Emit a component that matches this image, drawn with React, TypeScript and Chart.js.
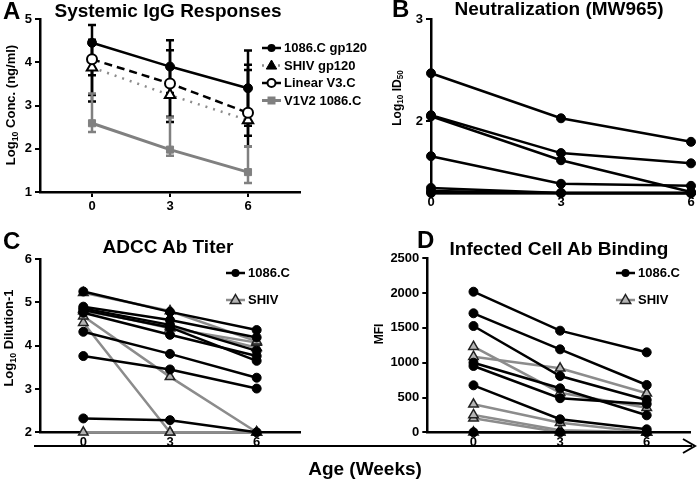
import React, { useEffect, useRef } from "react";
import { Chart, registerables } from "chart.js";
Chart.register(...registerables);

const FONT = 'Arial, "Liberation Sans", Helvetica, sans-serif';

// shared x categories (weeks)
const weeks = [0, 3, 6];
const weekTickLabels = ["0", "3", "6"];

// ---------- Panel A: Systemic IgG Responses ----------
const aNames = ["1086.C gp120", "SHIV gp120", "Linear V3.C", "V1V2 1086.C"];
const aYTicks = [1, 2, 3, 4, 5];
const a1086 = [4.45, 3.9, 3.4];
const a1086Lo = [3.09, 3.29, 2.53];
const a1086Hi = [4.86, 4.51, 4.27];
const aShiv = [3.88, 3.24, 2.66];
const aShivLo = [3.24, 2.62, 2.3];
const aShivHi = [4.52, 3.86, 3.82];
const aV3 = [4.07, 3.51, 2.83];
const aV3Lo = [3.7, 2.74, 2.06];
const aV3Hi = [4.44, 4.28, 3.94];
const aV1V2 = [2.59, 1.98, 1.46];
const aV1V2Lo = [2.39, 1.84, 1.21];
const aV1V2Hi = [3.28, 2.72, 2.06];

// ---------- Panel B: Neutralization (MW965) ----------
const bYTicks = [2, 3];
const bYTickLabels = ["2", "3"];
const bAnimal1 = [2.47, 2.03, 1.8];
const bAnimal2 = [2.06, 1.69, 1.59];
const bAnimal3 = [2.05, 1.62, 1.31];
const bAnimal4 = [1.66, 1.39, 1.37];
const bAnimal5 = [1.35, 1.3, 1.3];
const bAnimal6 = [1.32, 1.3, 1.3];
const bAnimal7 = [1.3, 1.3, 1.3];

// ---------- Panel C: ADCC Ab Titer ----------
const cYTicks = [2, 3, 4, 5, 6];
const c1086a = [5.25, 4.78, 4.36];
const c1086b = [4.9, 4.59, 4.19];
const c1086c = [4.86, 4.48, 3.88];
const c1086d = [4.82, 4.42, 3.65];
const c1086e = [4.76, 4.25, 3.76];
const c1086f = [4.32, 3.81, 3.26];
const c1086g = [3.76, 3.45, 3.01];
const c1086h = [2.32, 2.28, 2.0];
const cShivA = [5.22, 4.8, 4.1];
const cShivB = [4.84, 4.4, 4.07];
const cShivC = [4.8, 4.45, 3.95];
const cShivD = [4.68, 3.28, 2.0];
const cShivE = [4.53, 2.0, 2.0];
const cShivF = [2.0, 2.0, 2.0];

// ---------- Panel D: Infected Cell Ab Binding ----------
const dYTicks = [0, 500, 1000, 1500, 2000, 2500];
const d1086a = [2020, 1460, 1149];
const d1086b = [1710, 1192, 680];
const d1086c = [1527, 809, 464];
const d1086d = [1000, 632, 244];
const d1086e = [953, 490, 407];
const d1086f = [675, 187, 43];
const d1086g = [0, 0, 0];
const dShivA = [1230, 569, 353];
const dShivB = [1086, 920, 560];
const dShivC = [402, 138, 0];
const dShivD = [249, 30, 0];
const dShivE = [201, 0, 0];
const dShivF = [0, 0, 0];

const GRAY_LINE = "#8c8c8c";
const GRAY_FILL = "#b4b4b4";

const pts = (arr: number[]) => weeks.map((w, i) => ({ x: w, y: arr[i] }));

function drawMarker(ctx: CanvasRenderingContext2D, style: string, x: number, y: number, r: number, fill: string, stroke: string, lw: number) {
  ctx.save();
  ctx.beginPath();
  if (style === "circle") {
    ctx.arc(x, y, r, 0, Math.PI * 2);
  } else if (style === "triangle") {
    ctx.moveTo(x, y - r);
    ctx.lineTo(x + r * 0.95, y + r * 0.65);
    ctx.lineTo(x - r * 0.95, y + r * 0.65);
    ctx.closePath();
  } else {
    ctx.rect(x - r, y - r, r * 2, r * 2);
  }
  ctx.fillStyle = fill;
  ctx.fill();
  if (lw > 0) {
    ctx.lineWidth = lw;
    ctx.strokeStyle = stroke;
    ctx.stroke();
  }
  ctx.restore();
}

const legendPlugin = {
  id: "customLegend",
  afterDraw(chart: any, _args: any, opts: any) {
    if (!opts || !opts.items) return;
    const ctx = chart.ctx as CanvasRenderingContext2D;
    ctx.save();
    ctx.font = `bold ${opts.fontSize}px ${FONT}`;
    ctx.textBaseline = "middle";
    ctx.fillStyle = "#000";
    opts.items.forEach((it: any, i: number) => {
      const y = opts.y + i * opts.gap;
      ctx.save();
      ctx.strokeStyle = it.color;
      ctx.lineWidth = it.lineWidth;
      ctx.setLineDash(it.dash || []);
      ctx.beginPath();
      ctx.moveTo(opts.x, y);
      ctx.lineTo(opts.x + opts.lineLen, y);
      ctx.stroke();
      ctx.restore();
      drawMarker(ctx, it.marker, opts.x + opts.lineLen / 2, y, it.r, it.fill, it.stroke, it.mlw);
      ctx.fillStyle = "#000";
      ctx.fillText(it.label, opts.x + opts.lineLen + 3, y + 0.5);
    });
    ctx.restore();
  },
};

// draws y tick labels at the y scale's own tick positions
const yLabelPlugin = {
  id: "yLabels",
  afterDraw(chart: any, _args: any, opts: any) {
    if (!opts || !opts.values) return;
    const ys = chart.scales.y;
    const ctx = chart.ctx as CanvasRenderingContext2D;
    ctx.save();
    ctx.font = `bold 13px ${FONT}`;
    ctx.fillStyle = "#000";
    ctx.textAlign = "right";
    ctx.textBaseline = "middle";
    opts.values.forEach((v: number, i: number) => {
      ctx.fillText(opts.labels[i], ys.right - 8, ys.getPixelForValue(v));
    });
    ctx.restore();
  },
};

const errorBarPlugin = {
  id: "errorBars",
  beforeDatasetsDraw(chart: any, _args: any, opts: any) {
    if (!opts || !opts.bars) return;
    const ctx = chart.ctx as CanvasRenderingContext2D;
    const xs = chart.scales.x;
    const ys = chart.scales.y;
    ctx.save();
    opts.bars.forEach((b: any) => {
      ctx.strokeStyle = b.color;
      ctx.lineWidth = 2.5;
      weeks.forEach((w, i) => {
        const px = xs.getPixelForValue(w);
        const top = ys.getPixelForValue(b.hi[i]);
        const bot = ys.getPixelForValue(b.lo[i]);
        ctx.beginPath();
        ctx.moveTo(px, top);
        ctx.lineTo(px, bot);
        ctx.moveTo(px - 4, top);
        ctx.lineTo(px + 4, top);
        ctx.moveTo(px - 4, bot);
        ctx.lineTo(px + 4, bot);
        ctx.stroke();
      });
    });
    ctx.restore();
  },
};

function xAxis(min: number, max: number, height: number, tickLen: number) {
  return {
    type: "linear",
    min,
    max,
    afterBuildTicks: (s: any) => {
      s.ticks = weeks.map((v) => ({ value: v }));
    },
    afterFit: (s: any) => {
      s.height = height;
    },
    ticks: {
      autoSkip: false,
      maxRotation: 0,
      color: "#000",
      padding: 2,
      font: { family: FONT, weight: "bold", size: 13 },
      callback: (_v: any, i: number) => weekTickLabels[i],
    },
    grid: { drawOnChartArea: false, drawTicks: tickLen > 0, tickLength: tickLen, color: "#000", lineWidth: 2 },
    border: { display: true, color: "#000", width: 2.5 },
  };
}

function yAxis(min: number, max: number, width: number, tickVals: number[], showLabels = true) {
  return {
    type: "linear",
    min,
    max,
    afterBuildTicks: (s: any) => {
      s.ticks = tickVals.map((v) => ({ value: v }));
    },
    afterFit: (s: any) => {
      s.width = width;
    },
    ticks: {
      display: showLabels,
      autoSkip: false,
      color: "#000",
      padding: 3,
      font: { family: FONT, weight: "bold", size: 13 },
      callback: (v: any) => String(v),
    },
    grid: { drawOnChartArea: false, drawTicks: true, tickLength: 5, color: "#000", lineWidth: 2 },
    border: { display: true, color: "#000", width: 2.5 },
  };
}

function lineDs(arr: number[], opts: any) {
  return {
    data: pts(arr),
    showLine: true,
    fill: false,
    tension: 0,
    clip: false,
    borderWidth: 2.5,
    ...opts,
  };
}

const blackCircle = {
  borderColor: "#000",
  pointStyle: "circle",
  pointRadius: 4.5,
  pointBackgroundColor: "#000",
  pointBorderColor: "#000",
  pointBorderWidth: 1,
  order: 0,
};
const grayTriangle = {
  borderColor: GRAY_LINE,
  pointStyle: "triangle",
  pointRadius: 5.5,
  pointBackgroundColor: GRAY_FILL,
  pointBorderColor: "#222",
  pointBorderWidth: 1.5,
  order: 1,
};

function configA() {
  return {
    type: "scatter",
    data: {
      datasets: [
        lineDs(a1086, { ...blackCircle, pointRadius: 4.5 }),
        lineDs(aV3, { borderColor: "#000", borderDash: [8, 5], pointStyle: "circle", pointRadius: 5, pointBackgroundColor: "#fff", pointBorderColor: "#000", pointBorderWidth: 2 }),
        lineDs(aShiv, { borderColor: GRAY_LINE, borderDash: [2, 6], pointStyle: "triangle", pointRadius: 6, pointBackgroundColor: "#fff", pointBorderColor: "#000", pointBorderWidth: 2 }),
        lineDs(aV1V2, { borderColor: "#808080", borderWidth: 3, pointStyle: "rect", pointRadius: 5, pointBackgroundColor: "#808080", pointBorderColor: "#808080", pointBorderWidth: 1 }),
      ],
    },
    options: {
      responsive: false,
      animation: false,
      layout: { padding: { left: 0, top: 19, right: 70, bottom: 0 } },
      scales: { x: xAxis(-2, 8, 48, 5), y: yAxis(1, 5, 40, aYTicks) },
      plugins: {
        legend: { display: false },
        tooltip: { enabled: false },
        errorBars: {
          bars: [
            { color: "#000", lo: a1086Lo, hi: a1086Hi },
            { color: "#000", lo: aShivLo, hi: aShivHi },
            { color: "#000", lo: aV3Lo, hi: aV3Hi },
            { color: "#808080", lo: aV1V2Lo, hi: aV1V2Hi },
          ],
        },
        customLegend: {
          x: 262,
          y: 48,
          gap: 17.5,
          lineLen: 19,
          fontSize: 13,
          items: [
            { label: aNames[0], color: "#000", lineWidth: 2.5, marker: "circle", r: 4, fill: "#000", stroke: "#000", mlw: 0 },
            { label: aNames[1], color: GRAY_LINE, lineWidth: 2.5, dash: [2, 6], marker: "triangle", r: 5.5, fill: "#000", stroke: "#000", mlw: 1 },
            { label: aNames[2], color: "#000", lineWidth: 2.5, marker: "circle", r: 4, fill: "#fff", stroke: "#000", mlw: 2 },
            { label: aNames[3], color: "#808080", lineWidth: 3, marker: "rect", r: 4, fill: "#808080", stroke: "#808080", mlw: 0 },
          ],
        },
      },
    },
    plugins: [errorBarPlugin, legendPlugin],
  };
}

function configB() {
  const lines = [bAnimal1, bAnimal2, bAnimal3, bAnimal4, bAnimal5, bAnimal6, bAnimal7];
  return {
    type: "scatter",
    data: { datasets: lines.map((l) => lineDs(l, { ...blackCircle })) },
    options: {
      responsive: false,
      animation: false,
      layout: { padding: { left: 0, top: 19, right: 9, bottom: 0 } },
      scales: { x: xAxis(0, 6, 47, 0), y: yAxis(1.3, 3, 81, bYTicks, false) },
      plugins: {
        legend: { display: false },
        tooltip: { enabled: false },
        yLabels: { values: bYTicks, labels: bYTickLabels },
      },
    },
    plugins: [yLabelPlugin],
  };
}

function configC() {
  const black = [c1086a, c1086b, c1086c, c1086d, c1086e, c1086f, c1086g, c1086h];
  const gray = [cShivA, cShivB, cShivC, cShivD, cShivE, cShivF];
  return {
    type: "scatter",
    data: {
      datasets: [
        ...black.map((l) => lineDs(l, { ...blackCircle })),
        ...gray.map((l) => lineDs(l, { ...grayTriangle })),
      ],
    },
    options: {
      responsive: false,
      animation: false,
      layout: { padding: { left: 0, top: 19, right: 50, bottom: 0 } },
      scales: { x: xAxis(-1.5, 7.5, 50.7, 0), y: yAxis(2, 6, 40, cYTicks) },
      plugins: {
        legend: { display: false },
        tooltip: { enabled: false },
        customLegend: {
          x: 226,
          y: 33,
          gap: 27,
          lineLen: 19,
          fontSize: 13,
          items: [
            { label: "1086.C", color: "#000", lineWidth: 2.5, marker: "circle", r: 4, fill: "#000", stroke: "#000", mlw: 0 },
            { label: "SHIV", color: GRAY_LINE, lineWidth: 2.5, marker: "triangle", r: 5.5, fill: GRAY_FILL, stroke: "#222", mlw: 1.5 },
          ],
        },
      },
    },
    plugins: [legendPlugin],
  };
}

function configD() {
  const black = [d1086a, d1086b, d1086c, d1086d, d1086e, d1086f, d1086g];
  const gray = [dShivA, dShivB, dShivC, dShivD, dShivE, dShivF];
  return {
    type: "scatter",
    data: {
      datasets: [
        ...black.map((l) => lineDs(l, { ...blackCircle })),
        ...gray.map((l) => lineDs(l, { ...grayTriangle })),
      ],
    },
    options: {
      responsive: false,
      animation: false,
      layout: { padding: { left: 0, top: 18.3, right: 10, bottom: 0 } },
      scales: { x: xAxis(-1.6, 7.5, 50.7, 0), y: yAxis(0, 2500, 77.3, dYTicks) },
      plugins: {
        legend: { display: false },
        tooltip: { enabled: false },
        customLegend: {
          x: 266,
          y: 33,
          gap: 27,
          lineLen: 19,
          fontSize: 13,
          items: [
            { label: "1086.C", color: "#000", lineWidth: 2.5, marker: "circle", r: 4, fill: "#000", stroke: "#000", mlw: 0 },
            { label: "SHIV", color: GRAY_LINE, lineWidth: 2.5, marker: "triangle", r: 5.5, fill: GRAY_FILL, stroke: "#222", mlw: 1.5 },
          ],
        },
      },
    },
    plugins: [legendPlugin],
  };
}

function Panel({ left, top, width, height, make }: { left: number; top: number; width: number; height: number; make: () => any }) {
  const ref = useRef<HTMLCanvasElement | null>(null);
  useEffect(() => {
    if (!ref.current) return;
    const chart = new Chart(ref.current, make() as any);
    return () => chart.destroy();
  }, []);
  return (
    <canvas
      ref={ref}
      width={width}
      height={height}
      style={{ position: "absolute", left, top, width, height }}
    />
  );
}

const textBase: React.CSSProperties = {
  position: "absolute",
  fontFamily: FONT,
  fontWeight: "bold",
  color: "#000",
  whiteSpace: "nowrap",
  lineHeight: 1,
};

function Title({ cx, top, text }: { cx: number; top: number; text: string }) {
  return <div style={{ ...textBase, left: cx, top, fontSize: 19, transform: "translateX(-50%)" }}>{text}</div>;
}

function Letter({ x, top, text }: { x: number; top: number; text: string }) {
  return <div style={{ ...textBase, left: x, top, fontSize: 24 }}>{text}</div>;
}

function YTitle({ cx, cy, children, size }: { cx: number; cy: number; children: React.ReactNode; size: number }) {
  return (
    <div
      style={{
        ...textBase,
        left: cx,
        top: cy,
        fontSize: size,
        transform: "translate(-50%, -50%) rotate(-90deg)",
      }}
    >
      {children}
    </div>
  );
}

const subStyle: React.CSSProperties = { fontSize: "0.68em", verticalAlign: "-0.25em" };

export default function App() {
  return (
    <div style={{ position: "absolute", left: 0, top: 0, width: 700, height: 483, background: "#fff", overflow: "hidden" }}>
      <Panel left={0} top={0} width={370} height={240} make={configA} />
      <Panel left={350} top={0} width={350} height={240} make={configB} />
      <Panel left={0} top={240} width={350} height={243} make={configC} />
      <Panel left={350} top={240} width={350} height={243} make={configD} />

      <Letter x={3} top={-1} text="A" />
      <Letter x={392} top={-3} text="B" />
      <Letter x={3} top={229} text="C" />
      <Letter x={417} top={228} text="D" />

      <Title cx={168} top={1} text="Systemic IgG Responses" />
      <Title cx={559} top={-1} text="Neutralization (MW965)" />
      <Title cx={168} top={237} text="ADCC Ab Titer" />
      <Title cx={559} top={239} text="Infected Cell Ab Binding" />

      <YTitle cx={12} cy={105} size={13}>
        Log<span style={subStyle}>10</span> Conc. (ng/ml)
      </YTitle>
      <YTitle cx={398} cy={98} size={12}>
        Log<span style={subStyle}>10</span> ID<span style={subStyle}>50</span>
      </YTitle>
      <YTitle cx={10} cy={338} size={13}>
        Log<span style={subStyle}>10</span> Dilution-1
      </YTitle>
      <YTitle cx={379} cy={334} size={12}>
        MFI
      </YTitle>

      <svg width={700} height={483} style={{ position: "absolute", left: 0, top: 0, pointerEvents: "none" }}>
        <line x1={34} y1={446} x2={692} y2={446} stroke="#000" strokeWidth={2} />
        <polyline points="683,439 695,446 683,453" fill="none" stroke="#000" strokeWidth={2} />
      </svg>
      <div style={{ ...textBase, left: 365, top: 459, fontSize: 19, transform: "translateX(-50%)" }}>Age (Weeks)</div>
    </div>
  );
}
